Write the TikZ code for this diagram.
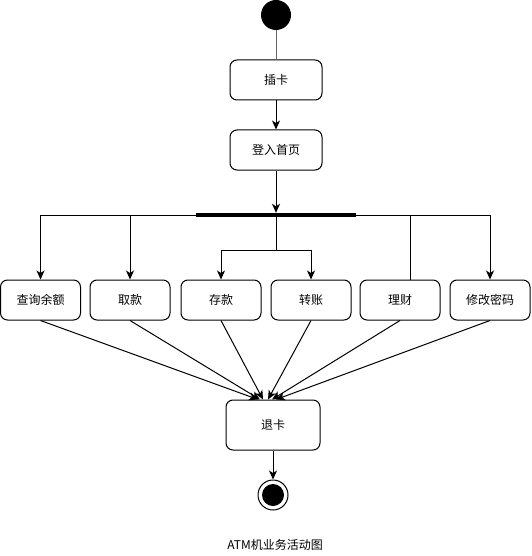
\documentclass[tikz,border=0pt]{standalone}
\usepackage{fontspec}
\setmainfont{Noto Sans CJK SC}
\usetikzlibrary{arrows.meta}
\tikzset{
  act/.style={draw=black, line width=1pt, rounded corners=7pt, minimum width=#1, minimum height=40pt, inner sep=0pt, font=\fontsize{12pt}{14pt}\selectfont, fill=white},
  act/.default=80pt,
  arr/.style={line width=1pt, -{Stealth[length=9pt,width=8pt,inset=2.5pt]}},
  ln/.style={line width=1pt},
}
\begin{document}
\begin{tikzpicture}[x=1pt,y=-1pt]
\useasboundingbox (0,0) rectangle (531,556);
% start
\node[circle, fill=black, minimum size=30pt, inner sep=0pt] (start) at (276,15) {};
\node[act=92pt] (ck) at (276,80) {插卡};
\node[act=92pt] (dl) at (276,150) {登入首页};
\node[fill=black, minimum width=160pt, minimum height=4pt, inner sep=0pt] (bar) at (276,215) {};
% branches
\node[act] (q) at (40.5,300) {查询余额};
\node[act] (qk) at (130,300) {取款};
\node[act] (ckk) at (221,300) {存款};
\node[act] (zz) at (311,300) {转账};
\node[act] (lc) at (400,300) {理财};
\node[act] (xg) at (490,300) {修改密码};
\node[act=94pt, minimum height=50pt] (tk) at (273,425) {退卡};
% end
\node[circle, draw=black, line width=1pt, minimum size=30pt, inner sep=0pt] (end) at (273,495) {};
\node[circle, fill=black, minimum size=22pt, inner sep=0pt] (endin) at (end.center) {};
% caption
\node[font=\fontsize{12pt}{14pt}\selectfont] (cap) at (275,545) {ATM机业务活动图};
% connectors
\draw[ln, black!60] (start) -- (ck);
\draw[arr] (ck) -- (dl);
\draw[arr] (dl) -- (bar.north);
\draw[arr] (bar.center) -| (q.north);
\draw[arr] (bar.center) -| (qk.north);
\draw[arr] (bar.center) -| (xg.north);
\draw[ln] (bar.center) -| ([xshift=10.5pt]lc.north);
\draw[ln] (bar.center) -- ++(0,35) coordinate (mid);
\draw[arr] (mid) -| (ckk.north);
\draw[arr] (mid) -| (zz.north);
\draw[arr] (q.south) -- ([xshift=-15pt]tk.north);
\draw[arr] (qk.south) -- ([xshift=-13pt]tk.north);
\draw[arr] (ckk.south) -- ([xshift=-10pt]tk.north);
\draw[arr] (zz.south) -- ([xshift=-5pt]tk.north);
\draw[arr] (lc.south) -- ([xshift=-1pt]tk.north);
\draw[arr] (xg.south) -- ([xshift=3pt]tk.north);
\draw[arr] (tk) -- (end);
\end{tikzpicture}
\end{document}
